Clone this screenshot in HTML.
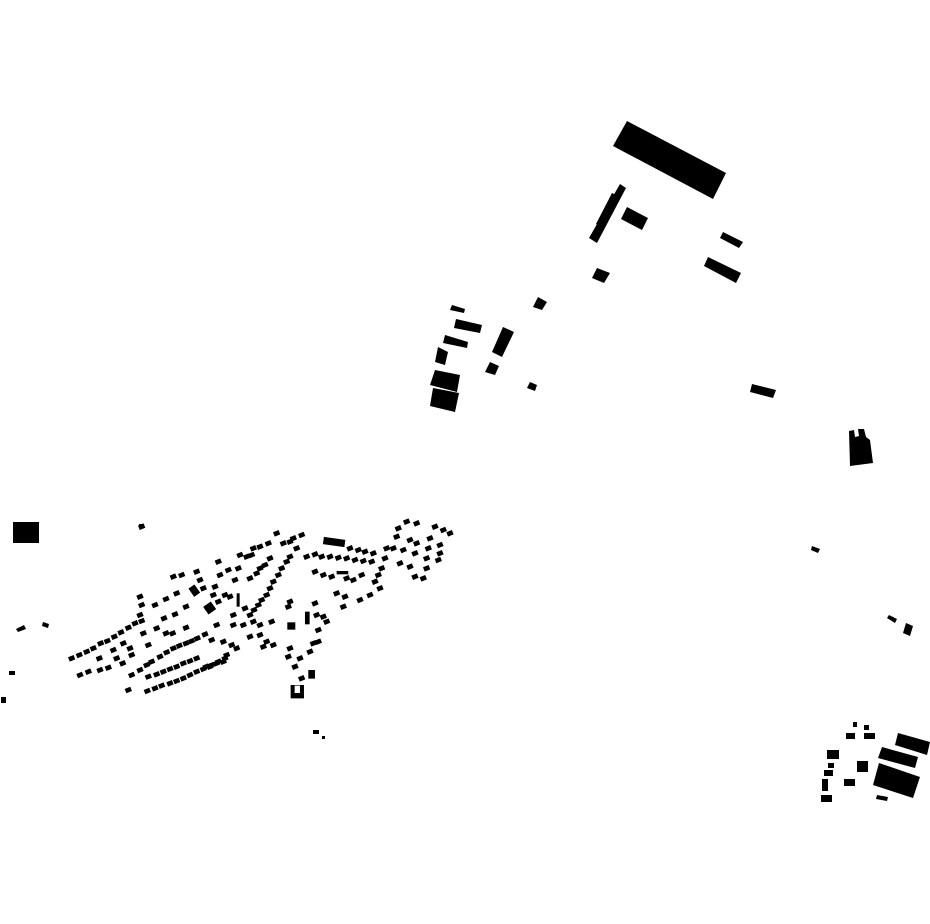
<!DOCTYPE html>
<html><head><meta charset="utf-8"><style>html,body{margin:0;padding:0;background:#fff}svg{display:block}</style></head>
<body>
<svg width="930" height="924" viewBox="0 0 930 924" xmlns="http://www.w3.org/2000/svg">
<defs><rect id="b" x="-9" y="-7" width="18" height="14" transform="rotate(-22)" fill="#000"/></defs>
<g fill="#000">
<polygon points="627,121 726,173 713,199 613,146"/>
<polygon points="620,184 626,188 597,243 589,238"/>
<polygon points="612,193 620,197 604,228 596,224"/>
<polygon points="627,207 648,218 642,230 621,219"/>
<polygon points="723,232 743,242 739,248 720,238"/>
<polygon points="708,257 741,273 736,283 704,266"/>
<polygon points="597,268 610,273 604,283 592,278"/>
<polygon points="538,297 547,302 542,310 533,307"/>
<polygon points="452,305 465,309 464,313 450,310"/>
<polygon points="456,319 482,325 480,333 454,328"/>
<polygon points="445,335 468,342 467,348 443,343"/>
<polygon points="438,347 448,352 445,365 435,362"/>
<polygon points="435,370 460,375 457,392 430,385"/>
<polygon points="433,388 459,393 455,412 430,406"/>
<polygon points="503,327 514,332 502,357 492,352"/>
<polygon points="490,362 499,366 495,375 485,372"/>
<polygon points="530,382 537,385 535,391 527,388"/>
<polygon points="752,384 776,390 773,398 750,392"/>
<polygon points="849,431 854,430 855,437 859,436 858,429 864,429 866,437 870,440 873,463 850,466"/>
<polygon points="812,546 820,549 818,553 811,550"/>
<polygon points="889,615 897,619 895,623 887,618"/>
<polygon points="906,623 913,626 910,636 903,633"/>
<polygon points="898,733 930,742 927,755 895,745"/>
<polygon points="882,747 918,757 915,768 878,758"/>
<polygon points="879,763 920,777 913,798 873,785"/>
<polygon points="877,795 888,797 887,801 876,799"/>
<rect x="853" y="722" width="4" height="5"/><rect x="864" y="725" width="5" height="5"/>
<rect x="846" y="733" width="9" height="6"/><rect x="864" y="733" width="11" height="6"/>
<rect x="827" y="750" width="12" height="9"/><rect x="828" y="763" width="6" height="5"/>
<rect x="824" y="770" width="9" height="6"/><rect x="822" y="779" width="6" height="12"/>
<rect x="821" y="795" width="11" height="7"/><rect x="857" y="761" width="11" height="11"/>
<rect x="844" y="779" width="11" height="7"/>
<rect x="13" y="522" width="26" height="21"/>
<rect x="139" y="524" width="5" height="4"/>
<polygon points="16,629 24,625 26,629 18,632"/><polygon points="43,622 49,624 48,628 42,626"/>
<rect x="9" y="671" width="6" height="4"/><rect x="1" y="697" width="5" height="6"/>
<rect x="313" y="730" width="6" height="4"/><rect x="322" y="736" width="3" height="3"/>
</g>
<g transform="translate(60,515) scale(0.3333)">
<g fill="#000">
<rect x="790" y="70" width="65" height="22" transform="rotate(8 822 81)"/>
<rect x="392" y="212" width="22" height="30" transform="rotate(-35 403 227)"/>
<rect x="435" y="265" width="28" height="28" transform="rotate(-35 449 279)"/>
<rect x="530" y="235" width="9" height="40"/>
<rect x="682" y="322" width="24" height="22"/>
<rect x="735" y="290" width="14" height="38"/>
<path d="M692 510 h40 v40 h-40 z M704 512 v22 h16 v-22 z" fill-rule="evenodd"/>
<rect x="745" y="465" width="20" height="26"/>
<rect x="830" y="168" width="35" height="10"/>
</g>
<use href="#b" x="245" y="35"/>
<use href="#b" x="35" y="430"/><use href="#b" x="58" y="420"/><use href="#b" x="80" y="410"/><use href="#b" x="100" y="400"/><use href="#b" x="122" y="385"/><use href="#b" x="142" y="378"/><use href="#b" x="163" y="365"/><use href="#b" x="183" y="352"/><use href="#b" x="205" y="338"/><use href="#b" x="225" y="325"/><use href="#b" x="245" y="318"/>
<use href="#b" x="60" y="480"/><use href="#b" x="85" y="470"/><use href="#b" x="120" y="465"/><use href="#b" x="145" y="458"/><use href="#b" x="118" y="430"/><use href="#b" x="160" y="405"/><use href="#b" x="190" y="385"/><use href="#b" x="210" y="400"/><use href="#b" x="170" y="430"/><use href="#b" x="188" y="445"/><use href="#b" x="215" y="420"/><use href="#b" x="250" y="355"/><use href="#b" x="265" y="390"/><use href="#b" x="285" y="270"/><use href="#b" x="318" y="252"/><use href="#b" x="350" y="235"/><use href="#b" x="345" y="298"/><use href="#b" x="312" y="310"/><use href="#b" x="378" y="275"/><use href="#b" x="290" y="340"/><use href="#b" x="318" y="355"/><use href="#b" x="338" y="355"/><use href="#b" x="378" y="338"/>
<use href="#b" x="215" y="480"/><use href="#b" x="240" y="465"/><use href="#b" x="260" y="450"/><use href="#b" x="275" y="440"/><use href="#b" x="300" y="425"/><use href="#b" x="320" y="412"/><use href="#b" x="340" y="400"/><use href="#b" x="358" y="392"/><use href="#b" x="378" y="385"/><use href="#b" x="395" y="378"/><use href="#b" x="412" y="370"/><use href="#b" x="435" y="358"/><use href="#b" x="455" y="375"/>
<use href="#b" x="265" y="485"/><use href="#b" x="290" y="478"/><use href="#b" x="310" y="470"/><use href="#b" x="330" y="462"/><use href="#b" x="350" y="455"/><use href="#b" x="370" y="445"/><use href="#b" x="390" y="438"/><use href="#b" x="410" y="430"/><use href="#b" x="438" y="455"/><use href="#b" x="455" y="450"/><use href="#b" x="475" y="440"/><use href="#b" x="495" y="430"/><use href="#b" x="500" y="420"/>
<use href="#b" x="205" y="525"/><use href="#b" x="262" y="528"/><use href="#b" x="285" y="520"/><use href="#b" x="305" y="512"/><use href="#b" x="330" y="505"/><use href="#b" x="350" y="498"/><use href="#b" x="370" y="490"/><use href="#b" x="390" y="480"/><use href="#b" x="410" y="470"/><use href="#b" x="430" y="462"/><use href="#b" x="450" y="455"/><use href="#b" x="470" y="445"/><use href="#b" x="490" y="440"/>
<use href="#b" x="240" y="245"/><use href="#b" x="245" y="270"/><use href="#b" x="240" y="300"/><use href="#b" x="340" y="185"/><use href="#b" x="365" y="180"/><use href="#b" x="410" y="170"/><use href="#b" x="420" y="195"/><use href="#b" x="430" y="220"/><use href="#b" x="465" y="215"/><use href="#b" x="480" y="180"/><use href="#b" x="475" y="140"/><use href="#b" x="505" y="165"/><use href="#b" x="535" y="160"/><use href="#b" x="540" y="120"/><use href="#b" x="560" y="125"/><use href="#b" x="575" y="120"/><use href="#b" x="525" y="195"/><use href="#b" x="570" y="190"/><use href="#b" x="590" y="175"/><use href="#b" x="600" y="160"/><use href="#b" x="615" y="150"/><use href="#b" x="630" y="130"/><use href="#b" x="580" y="100"/><use href="#b" x="600" y="95"/><use href="#b" x="625" y="85"/><use href="#b" x="650" y="55"/><use href="#b" x="670" y="85"/><use href="#b" x="690" y="80"/><use href="#b" x="700" y="70"/><use href="#b" x="725" y="60"/><use href="#b" x="710" y="100"/><use href="#b" x="690" y="125"/><use href="#b" x="680" y="140"/><use href="#b" x="665" y="160"/><use href="#b" x="655" y="180"/><use href="#b" x="640" y="200"/><use href="#b" x="630" y="220"/><use href="#b" x="620" y="240"/><use href="#b" x="605" y="255"/><use href="#b" x="595" y="270"/><use href="#b" x="582" y="285"/><use href="#b" x="570" y="300"/><use href="#b" x="555" y="280"/><use href="#b" x="510" y="245"/><use href="#b" x="495" y="240"/><use href="#b" x="475" y="260"/><use href="#b" x="460" y="240"/><use href="#b" x="470" y="330"/><use href="#b" x="520" y="300"/><use href="#b" x="520" y="330"/><use href="#b" x="550" y="330"/><use href="#b" x="580" y="320"/><use href="#b" x="600" y="330"/><use href="#b" x="635" y="320"/><use href="#b" x="570" y="365"/><use href="#b" x="600" y="360"/><use href="#b" x="620" y="380"/><use href="#b" x="640" y="390"/><use href="#b" x="610" y="395"/><use href="#b" x="490" y="380"/><use href="#b" x="515" y="390"/><use href="#b" x="530" y="400"/>
<use href="#b" x="690" y="260"/><use href="#b" x="685" y="275"/><use href="#b" x="765" y="265"/><use href="#b" x="770" y="300"/><use href="#b" x="790" y="305"/><use href="#b" x="800" y="320"/><use href="#b" x="775" y="345"/><use href="#b" x="760" y="385"/><use href="#b" x="775" y="380"/><use href="#b" x="750" y="410"/><use href="#b" x="690" y="400"/><use href="#b" x="685" y="425"/><use href="#b" x="720" y="430"/><use href="#b" x="705" y="455"/><use href="#b" x="725" y="490"/>
<use href="#b" x="870" y="100"/><use href="#b" x="895" y="105"/><use href="#b" x="915" y="110"/><use href="#b" x="940" y="115"/><use href="#b" x="740" y="125"/><use href="#b" x="765" y="118"/><use href="#b" x="785" y="125"/><use href="#b" x="810" y="125"/><use href="#b" x="835" y="128"/><use href="#b" x="860" y="130"/><use href="#b" x="885" y="135"/><use href="#b" x="910" y="138"/><use href="#b" x="935" y="140"/><use href="#b" x="765" y="170"/><use href="#b" x="790" y="180"/><use href="#b" x="815" y="185"/><use href="#b" x="860" y="190"/><use href="#b" x="880" y="195"/><use href="#b" x="905" y="180"/><use href="#b" x="830" y="235"/><use href="#b" x="855" y="245"/><use href="#b" x="850" y="275"/><use href="#b" x="900" y="255"/><use href="#b" x="930" y="240"/><use href="#b" x="960" y="220"/><use href="#b" x="945" y="200"/><use href="#b" x="955" y="180"/><use href="#b" x="965" y="160"/><use href="#b" x="975" y="130"/><use href="#b" x="980" y="100"/>
<use href="#b" x="1015" y="40"/><use href="#b" x="1040" y="20"/><use href="#b" x="1070" y="25"/><use href="#b" x="1125" y="35"/><use href="#b" x="1150" y="45"/><use href="#b" x="1170" y="55"/><use href="#b" x="1010" y="65"/><use href="#b" x="1050" y="75"/><use href="#b" x="1070" y="85"/><use href="#b" x="1110" y="70"/><use href="#b" x="1140" y="90"/><use href="#b" x="1000" y="100"/><use href="#b" x="1030" y="105"/><use href="#b" x="1065" y="115"/><use href="#b" x="1105" y="100"/><use href="#b" x="1020" y="145"/><use href="#b" x="1050" y="155"/><use href="#b" x="1100" y="130"/><use href="#b" x="1135" y="135"/><use href="#b" x="1100" y="160"/><use href="#b" x="1065" y="185"/><use href="#b" x="1090" y="190"/><use href="#b" x="1140" y="115"/>
</g>
</svg>
</body></html>
